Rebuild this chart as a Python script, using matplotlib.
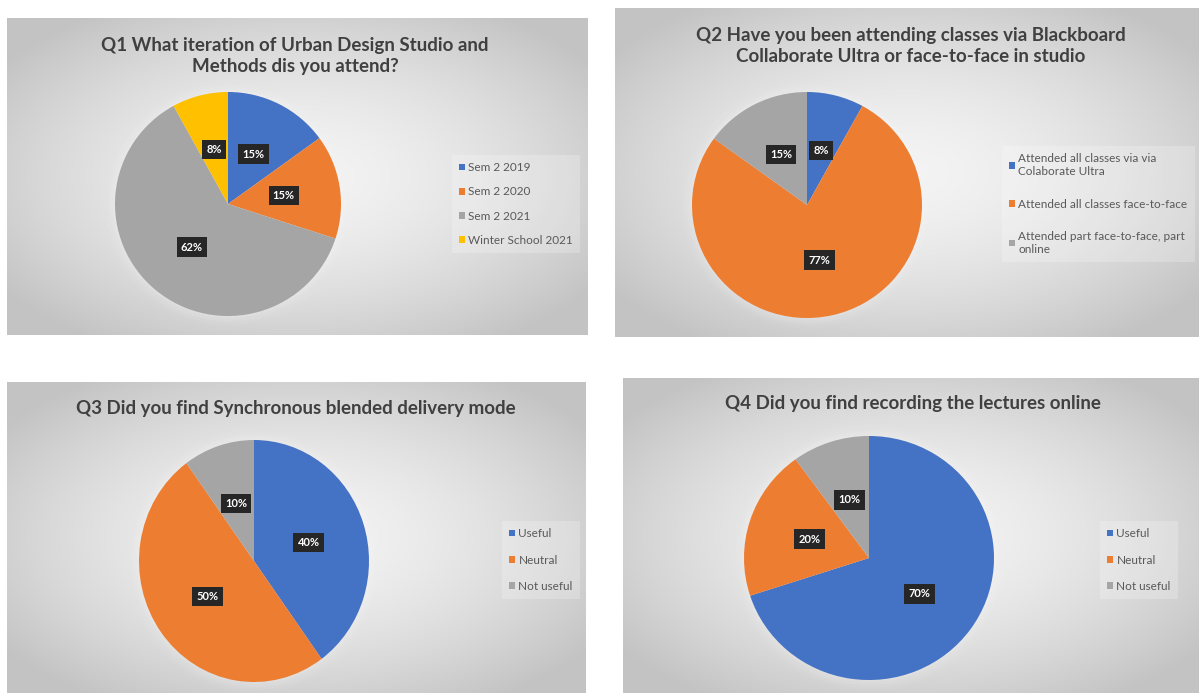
import numpy as np
import matplotlib
matplotlib.use("Agg")
import matplotlib.pyplot as plt
from matplotlib.patches import Ellipse

plt.rcParams["font.family"] = ["Lato", "DejaVu Sans"]

W, H, DPI = 1203, 693, 100

BLUE, ORANGE, GREY, YELLOW = "#4472C4", "#ED7D31", "#A5A5A5", "#FFC000"

# ---- survey data -------------------------------------------------------
q1_title = "Q1 What iteration of Urban Design Studio and\nMethods dis you attend?"
q1_labels = ["Sem 2 2019", "Sem 2 2020", "Sem 2 2021", "Winter School 2021"]
q1_values = [15, 15, 62, 8]

q2_title = ("Q2 Have you been attending classes via Blackboard\n"
            "Collaborate Ultra or face-to-face in studio")
q2_labels = ["Attended all classes via via\nColaborate Ultra",
             "Attended all classes face-to-face",
             "Attended part face-to-face, part\nonline"]
q2_values = [8, 77, 15]

q3_title = "Q3 Did you find Synchronous blended delivery mode"
q3_labels = ["Useful", "Neutral", "Not useful"]
q3_values = [40, 50, 10]

q4_title = "Q4 Did you find recording the lectures online"
q4_labels = ["Useful", "Neutral", "Not useful"]
q4_values = [70, 20, 10]

# ---- layout (pixel positions of each chart block) ----------------------
panels = [
    dict(title=q1_title, labels=q1_labels, values=q1_values,
         colors=[BLUE, ORANGE, GREY, YELLOW],
         box=(7, 18, 588, 335), title_xy=(295, 56),
         pie=(228, 204, 113, 112), legend_xy=(446, 204), spacing=1.12),
    dict(title=q2_title, labels=q2_labels, values=q2_values,
         colors=[BLUE, ORANGE, GREY],
         box=(615, 8, 1199, 337), title_xy=(911, 46),
         pie=(807, 205, 115, 113), legend_xy=(996, 204), spacing=1.8),
    dict(title=q3_title, labels=q3_labels, values=q3_values,
         colors=[BLUE, ORANGE, GREY],
         box=(7, 382, 586, 693), title_xy=(296, 408),
         pie=(254, 561, 115, 121), legend_xy=(496, 560), spacing=1.3),
    dict(title=q4_title, labels=q4_labels, values=q4_values,
         colors=[BLUE, ORANGE, GREY],
         box=(623, 378, 1199, 693), title_xy=(913, 403),
         pie=(869, 558, 125, 122), legend_xy=(1094, 560), spacing=1.3),
]


def fx(x):
    return x / W


def fy(y):
    return 1 - y / H


fig = plt.figure(figsize=(W / DPI, H / DPI), dpi=DPI)
fig.patch.set_facecolor("white")

for p in panels:
    x0, y0, x1, y1 = p["box"]
    # chart area with a soft radial grey gradient
    bg = fig.add_axes([fx(x0), fy(y1), fx(x1 - x0), (y1 - y0) / H], zorder=0)
    gx = np.linspace(-1, 1, 300)
    gy = np.linspace(-1, 1, 200)
    X, Y = np.meshgrid(gx, gy)
    r = np.clip(np.sqrt(X ** 2 + Y ** 2) / 1.25, 0, 1)
    shade = 0.955 - 0.19 * r ** 1.6
    img = np.dstack([shade, shade, shade])
    bg.imshow(img, extent=(0, 1, 0, 1), aspect="auto", interpolation="bilinear")
    bg.set_xlim(0, 1)
    bg.set_ylim(0, 1)
    bg.axis("off")

    # pie, drawn into an axes sized to the ellipse bounds
    cx, cy, rx, ry = p["pie"]
    ax = fig.add_axes([fx(cx - rx), fy(cy + ry), 2 * rx / W, 2 * ry / H], zorder=2)
    for k, a in enumerate([0.10, 0.07, 0.05, 0.03]):
        s = 1.02 + 0.025 * k
        ax.add_patch(Ellipse((0, 0), 2 * s, 2 * s, fc="white", ec="none",
                             alpha=a, clip_on=False, zorder=0))
    wedges, _, autotexts = ax.pie(
        p["values"], colors=p["colors"], startangle=90, counterclock=False,
        autopct=lambda v: f"{v:.0f}%", pctdistance=0.5, radius=1,
        wedgeprops=dict(linewidth=0, zorder=1),
        textprops=dict(color="white", fontsize=8, fontweight="bold"))
    for t in autotexts:
        t.set_bbox(dict(boxstyle="square,pad=0.38", fc="#262626", ec="none"))
    ax.set_aspect("auto")
    ax.set_xlim(-1, 1)
    ax.set_ylim(-1, 1)
    ax.axis("off")

    # title
    tx, ty = p["title_xy"]
    fig.text(fx(tx), fy(ty), p["title"], ha="center", va="center",
             fontsize=13.5, fontweight="bold", color="#404040",
             linespacing=1.3, zorder=3)

    # legend
    lx, ly = p["legend_xy"]
    leg = fig.legend(wedges, p["labels"], loc="center left",
                     bbox_to_anchor=(fx(lx), fy(ly)),
                     bbox_transform=fig.transFigure,
                     fontsize=8.5, frameon=True, fancybox=False,
                     handlelength=0.5, handleheight=0.5, handletextpad=0.3,
                     labelspacing=p["spacing"], borderpad=0.6)
    leg.set_zorder(3)
    frame = leg.get_frame()
    frame.set_facecolor("white")
    frame.set_alpha(0.22)
    frame.set_edgecolor("none")
    for t in leg.get_texts():
        t.set_color("#595959")

fig.savefig("out.png", dpi=DPI)
